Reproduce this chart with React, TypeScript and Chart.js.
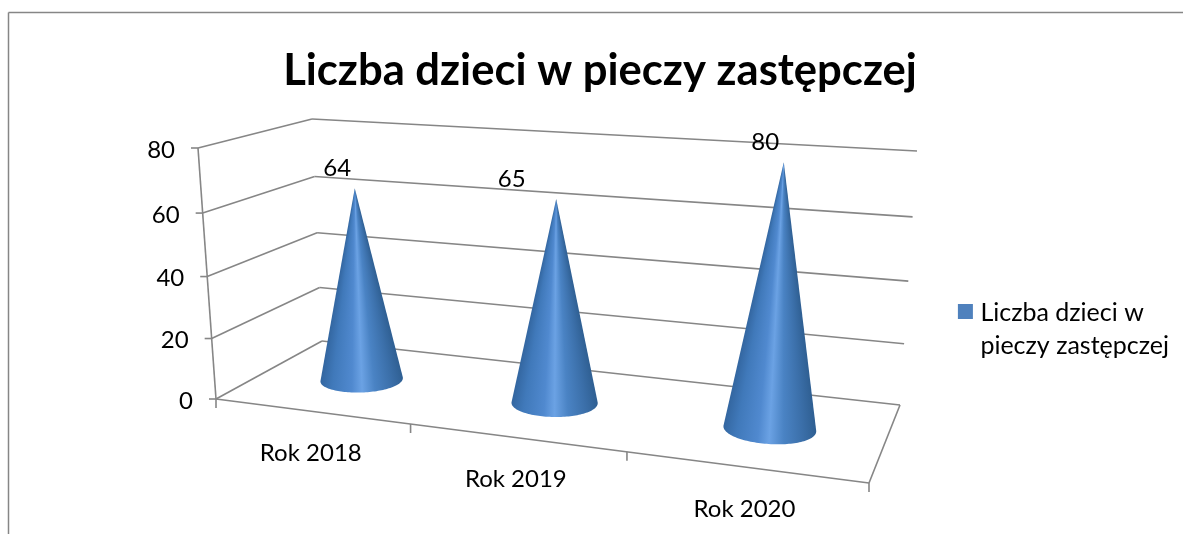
import React, { useEffect, useRef } from "react";
import { Chart, registerables } from "chart.js";

Chart.register(...registerables);

const titleText = "Liczba dzieci w pieczy zastępczej";
const seriesName = "Liczba dzieci w pieczy zastępczej";
const legendLines = ["Liczba dzieci w", "pieczy zastępczej"];
const categories = ["Rok 2018", "Rok 2019", "Rok 2020"];
const values = [64, 65, 80];
const labelNudgeX = [-16, -43, -17];

const FONT = "Lato, 'Open Sans', sans-serif";
const GRID = "#868686";
const BLUE = "#4F81BD";

// Corners of the 3D box on the page: [depth][height][left/right]
const box = {
  f0l: [216, 399], f0r: [869, 483], f1l: [198, 148], f1r: [894, 189],
  b0l: [322, 341], b0r: [900, 405], b1l: [312, 119], b1r: [917, 151],
};
const warp = (t: number, k: number) => t / (t + k * (1 - t));
const mix = (a: number[], b: number[], t: number) => [a[0] + (b[0] - a[0]) * t, a[1] + (b[1] - a[1]) * t];

function project(chart: any, x: number, y: number, v: number) {
  const { left, right, top, bottom } = chart.chartArea;
  const u = warp((x - left) / (right - left), 1.178);
  const h = warp((bottom - y) / (bottom - top), 1.05);
  const f0 = mix(box.f0l as any, box.f0r as any, u);
  const f1 = mix(box.f1l as any, box.f1r as any, u);
  const b0 = mix(box.b0l as any, box.b0r as any, u);
  const b1 = mix(box.b1l as any, box.b1r as any, u);
  return mix(mix(f0, f1, h), mix(b0, b1, h), v);
}

function line(ctx: CanvasRenderingContext2D, a: number[], b: number[]) {
  ctx.beginPath();
  ctx.moveTo(a[0], a[1]);
  ctx.lineTo(b[0], b[1]);
  ctx.stroke();
}

const CONE_V = 0.52;
const CONE_DX = 1.5;

function drawCone(chart: any, ctx: CanvasRenderingContext2D, el: any) {
  const { x, y, base, width } = el.getProps(["x", "y", "base", "width"], true);
  const ap = project(chart, x, y, CONE_V);
  const apex = [ap[0] + CONE_DX, ap[1]];
  const N = 144;
  const pts: number[][] = [];
  const ang: number[] = [];
  for (let i = 0; i < N; i++) {
    const t = (i / N) * Math.PI * 2;
    const q = project(chart, x + (width / 2) * Math.cos(t), base, CONE_V + 0.2 * Math.sin(t));
    const p = [q[0] + CONE_DX, q[1]];
    pts.push(p);
    ang.push(Math.atan2(p[1] - apex[1], p[0] - apex[0]));
  }
  let iL = 0;
  let iR = 0;
  ang.forEach((a, i) => {
    if (a > ang[iL]) iL = i;
    if (a < ang[iR]) iR = i;
  });
  ctx.beginPath();
  ctx.moveTo(apex[0], apex[1]);
  let i = iL;
  ctx.lineTo(pts[i][0], pts[i][1]);
  while (i !== iR) {
    i = (i + 1) % N;
    ctx.lineTo(pts[i][0], pts[i][1]);
  }
  ctx.closePath();
  const start = ang[iR];
  const span = (ang[iL] - ang[iR]) / (2 * Math.PI);
  const g = (ctx as any).createConicGradient(start, apex[0], apex[1]);
  const stops: [number, string][] = [
    [0, "#2F5F92"], [0.15, "#3B6FA9"], [0.35, "#4A83C4"], [0.5, "#6BA2E4"],
    [0.62, "#5089CF"], [0.85, "#4079BA"], [1, "#3366A0"],
  ];
  stops.forEach(([s, c]) => g.addColorStop(s * span, c));
  g.addColorStop(Math.min(span + 0.001, 1), "#3366A0");
  ctx.fillStyle = g;
  ctx.fill();
}

const conePlugin = {
  id: "cone3d",
  beforeDatasetsDraw(chart: any) {
    const { ctx, scales, chartArea } = chart;
    const { x: xs, y: ys } = scales;
    const { left, right, bottom } = chartArea;
    ctx.save();
    ctx.strokeStyle = GRID;
    ctx.lineWidth = 1.5;
    line(ctx, [8.5, 534], [8.5, 12.5]);
    line(ctx, [8.5, 12.5], [1183, 12.5]);
    ctx.lineWidth = 1.6;
    ctx.fillStyle = "#000";
    ctx.font = `24px ${FONT}`;
    ctx.textAlign = "right";
    ctx.textBaseline = "middle";
    ys.ticks.forEach((t: any) => {
      const py = ys.getPixelForValue(t.value);
      const a = project(chart, left, py, 0);
      const b = project(chart, left, py, 1);
      const c = project(chart, right, py, 1);
      line(ctx, [a[0] - 7, a[1]], a);
      line(ctx, a, b);
      line(ctx, b, c);
      ctx.fillText(String(t.value), a[0] - 23, a[1] + 2);
    });
    line(ctx, project(chart, left, bottom, 0), project(chart, left, ys.getPixelForValue(ys.max), 0));
    line(ctx, project(chart, left, bottom, 0), project(chart, right, bottom, 0));
    line(ctx, project(chart, right, bottom, 0), project(chart, right, bottom, 1));
    for (let i = 0; i <= categories.length; i++) {
      const p = project(chart, xs.getPixelForValue(i - 0.5), bottom, 0);
      line(ctx, p, [p[0], p[1] + 9]);
    }
    ctx.textAlign = "center";
    categories.forEach((c, i) => {
      const p = project(chart, xs.getPixelForValue(i), bottom, 0);
      ctx.fillText(c, p[0], p[1] + 42);
    });
    ctx.restore();
  },
  beforeDatasetDraw(chart: any, args: any) {
    const { ctx } = chart;
    ctx.save();
    args.meta.data.forEach((el: any) => drawCone(chart, ctx, el));
    ctx.restore();
    return false;
  },
  afterDatasetsDraw(chart: any) {
    const { ctx } = chart;
    const meta = chart.getDatasetMeta(0);
    ctx.save();
    ctx.fillStyle = "#000";
    ctx.font = `24px ${FONT}`;
    ctx.textAlign = "center";
    ctx.textBaseline = "middle";
    meta.data.forEach((el: any, i: number) => {
      const { x, y } = el.getProps(["x", "y"], true);
      const p = project(chart, x, y, CONE_V);
      ctx.fillText(String(values[i]), p[0] + labelNudgeX[i], p[1] - 20);
    });
    ctx.restore();
  },
  afterDraw(chart: any) {
    // legend swatch is wider than the text gap that the legend leaves for it
    const hit = chart.legend.legendHitBoxes[0];
    const { ctx } = chart;
    ctx.save();
    ctx.fillStyle = "#fff";
    ctx.fillRect(hit.left - 1, hit.top - 2, 13, 30);
    ctx.fillStyle = BLUE;
    ctx.fillRect(hit.left + 1, hit.top + 4, 15, 15);
    ctx.restore();
  },
};

export default function App() {
  const ref = useRef<HTMLCanvasElement>(null);
  useEffect(() => {
    const chart = new Chart(ref.current as HTMLCanvasElement, {
      type: "bar",
      data: {
        labels: categories,
        datasets: [{ label: seriesName, data: values, backgroundColor: BLUE, barPercentage: 0.4, categoryPercentage: 1 }],
      },
      plugins: [conePlugin],
      options: {
        responsive: false,
        animation: false,
        events: [],
        layout: { padding: { left: 21, right: 4, top: 41, bottom: 160 } },
        scales: {
          x: { display: false },
          y: { display: false, min: 0, max: 80, ticks: { stepSize: 20 } },
        },
        plugins: {
          tooltip: { enabled: false },
          title: {
            display: true,
            text: titleText,
            color: "#000",
            font: { family: FONT, size: 43.6, weight: "bold" },
            padding: { top: 4, bottom: 10 },
          },
          legend: {
            display: true,
            position: "right",
            align: "end",
            labels: {
              color: "#000",
              boxWidth: 11,
              boxHeight: 15,
              padding: 8,
              font: { family: FONT, size: 25, lineHeight: 1.32 },
              generateLabels: () => [
                { text: legendLines, fillStyle: BLUE, strokeStyle: BLUE, lineWidth: 0, datasetIndex: 0, fontColor: "#000" },
              ],
            },
          },
        },
      } as any,
    });
    return () => chart.destroy();
  }, []);
  return (
    <div style={{ position: "fixed", left: 0, top: 0, width: 1183, height: 534, background: "#fff" }}>
      <canvas ref={ref} width={1183} height={534} style={{ display: "block" }} />
    </div>
  );
}
